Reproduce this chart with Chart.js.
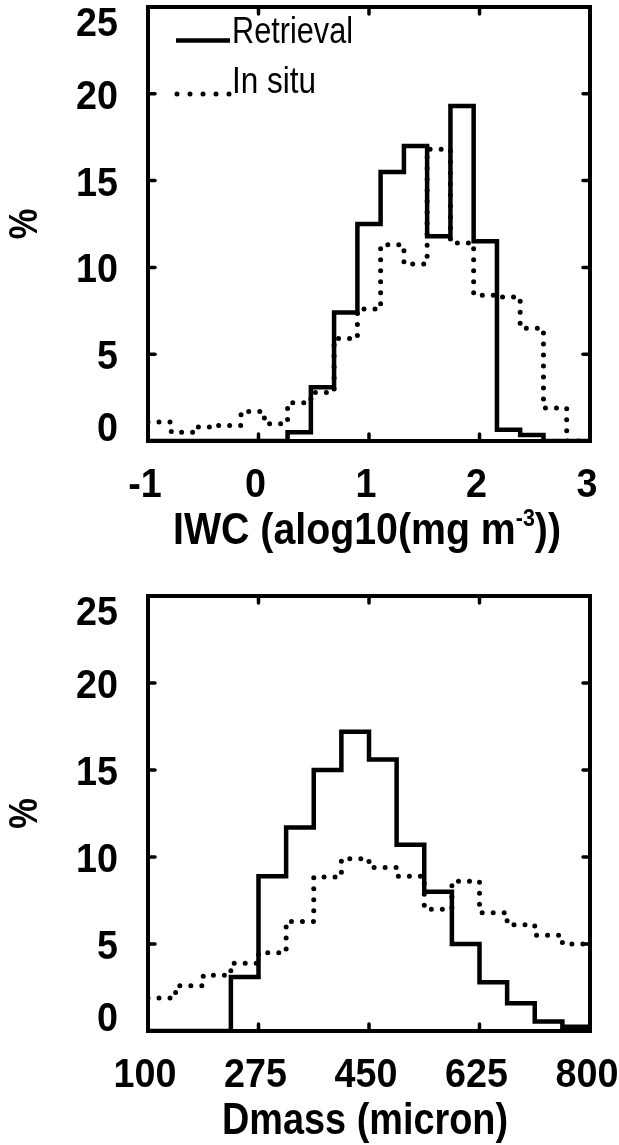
<!DOCTYPE html>
<html>
<head>
<meta charset="utf-8">
<title>IWC and Dmass histograms</title>
<script src="https://cdn.jsdelivr.net/npm/chart.js@4.4.1/dist/chart.umd.min.js"></script>
<style>
  html, body { margin: 0; padding: 0; background: #fff; }
  #page { position: relative; width: 619px; height: 1145px; overflow: hidden; background: #fff; }
  canvas { position: absolute; left: 0; }
</style>
</head>
<body>
<div id="page">
  <canvas id="iwcChart" width="619" height="575" style="top:0px"></canvas>
  <canvas id="dmassChart" width="619" height="570" style="top:575px"></canvas>
</div>
<script>
// IWC histogram, bins in log10(mg m-3), values in %
const iwcEdges = [-1, -0.789, -0.579, -0.368, -0.158, 0.053, 0.263, 0.474, 0.684, 0.895,
                  1.105, 1.316, 1.526, 1.737, 1.947, 2.158, 2.368, 2.579, 2.789, 3];
const iwcRetrieval = [0, 0, 0, 0, 0, 0, 0.5, 3.1, 7.4, 12.5, 15.5, 17.0, 11.8, 19.3, 11.5, 0.65, 0.35, 0, 0];
const iwcInSitu = [1.1, 0.5, 0.8, 0.9, 1.7, 1.0, 2.2, 2.8, 5.9, 7.6, 11.3, 10.2, 16.8, 11.4, 8.4, 8.3, 6.5, 1.9, 0];
const iwcTicks = [-1, 0, 1, 2, 3];

// Dmass histogram, bins in micron, values in %
const dmassEdges = [100, 143.75, 187.5, 231.25, 275, 318.75, 362.5, 406.25, 450,
                    493.75, 537.5, 581.25, 625, 668.75, 712.5, 756.25, 800];
const dmassRetrieval = [0, 0, 0, 3.1, 8.9, 11.7, 15.0, 17.2, 15.6, 10.7, 8.0, 5.0, 2.8, 1.6, 0.55, 0.25];
const dmassInSitu = [1.9, 2.6, 3.2, 3.9, 4.5, 6.3, 8.85, 9.9, 9.4, 8.9, 7.0, 8.6, 6.8, 6.1, 5.5, 5.0];
const dmassTicks = [100, 275, 450, 625, 800];

const percentTicks = [0, 5, 10, 15, 20, 25];
const seriesNames = ['Retrieval', 'In situ'];

const FONT = '"Liberation Sans", Arial, Helvetica, sans-serif';
const TICK_SX = 0.92;

// stairs: one point per bin left edge, plus the closing right edge
function stairs(edges, values) {
  const pts = values.map((v, i) => ({ x: edges[i], y: v }));
  pts.push({ x: edges[edges.length - 1], y: values[values.length - 1] });
  return pts;
}

// horizontally condensed text
function condensed(ctx, str, x, y, font, sx, align, baseline) {
  ctx.save();
  ctx.translate(x, y);
  ctx.scale(sx, 1);
  ctx.font = font;
  ctx.textAlign = align || 'left';
  ctx.textBaseline = baseline || 'alphabetic';
  ctx.fillText(str, 0, 0);
  ctx.restore();
}

// a run of text pieces squeezed to a given width, centred on cx
function fittedRun(ctx, parts, cx, baseY, width) {
  let total = 0;
  parts.forEach(p => {
    ctx.font = p.font;
    p.w = ctx.measureText(p.text).width;
    total += p.w;
  });
  const sx = width / total;
  ctx.save();
  ctx.translate(cx - width / 2, baseY);
  ctx.scale(sx, 1);
  ctx.textAlign = 'left';
  ctx.textBaseline = 'alphabetic';
  let x = 0;
  parts.forEach(p => {
    ctx.font = p.font;
    ctx.fillText(p.text, x, -(p.rise || 0));
    x += p.w;
  });
  ctx.restore();
}

function strokeLine(ctx, x1, y1, x2, y2) {
  ctx.beginPath();
  ctx.moveTo(x1, y1);
  ctx.lineTo(x2, y2);
  ctx.stroke();
}

// boxed axes with inward ticks, labels, titles and an inset legend
const boxedAxes = {
  id: 'boxedAxes',
  afterDraw(chart, args, opts) {
    const { ctx, chartArea: a, scales } = chart;
    const x = scales.x, y = scales.y;
    ctx.save();
    ctx.strokeStyle = '#000';
    ctx.fillStyle = '#000';

    ctx.lineWidth = 4;
    ctx.lineJoin = 'miter';
    ctx.strokeRect(a.left, a.top, a.right - a.left, a.bottom - a.top);

    ctx.lineWidth = 3.5;
    ctx.lineCap = 'round';
    const tl = 7;
    x.ticks.forEach(t => {
      const px = x.getPixelForValue(t.value);
      if (px > a.left + 2 && px < a.right - 2) {
        strokeLine(ctx, px, a.bottom, px, a.bottom - tl);
        strokeLine(ctx, px, a.top, px, a.top + tl);
      }
    });
    y.ticks.forEach(t => {
      const py = y.getPixelForValue(t.value);
      if (py > a.top + 2 && py < a.bottom - 2) {
        strokeLine(ctx, a.left, py, a.left + tl, py);
        strokeLine(ctx, a.right, py, a.right - tl, py);
      }
    });

    const tickFont = 'bold 41px ' + FONT;
    x.ticks.forEach(t => {
      const px = x.getPixelForValue(t.value);
      condensed(ctx, String(t.value), px - 3, a.bottom + 56, tickFont, TICK_SX, 'center');
    });
    y.ticks.forEach(t => {
      let base = y.getPixelForValue(t.value) + 15;
      if (t.value === y.max) base = a.top + 29;
      if (t.value === y.min) base = a.bottom;
      condensed(ctx, String(t.value), 118, base, tickFont, TICK_SX, 'right');
    });

    // y title, rotated
    ctx.save();
    ctx.translate(26, (a.top + a.bottom) / 2);
    ctx.rotate(-Math.PI / 2);
    condensed(ctx, '%', 0, 0, 'bold 40px ' + FONT, 0.86, 'center', 'middle');
    ctx.restore();

    // x title
    fittedRun(ctx, opts.title, opts.titleX, a.bottom + 103, opts.titleWidth);

    if (opts.legend) {
      const ds = chart.data.datasets;
      ctx.lineCap = 'butt';
      ctx.lineWidth = ds[0].borderWidth;
      strokeLine(ctx, 176, 40.5, 230, 40.5);
      ctx.lineCap = 'round';
      ctx.lineWidth = ds[1].borderWidth;
      ctx.setLineDash([0, 13]);
      strokeLine(ctx, 177, 94, 231, 94);
      ctx.setLineDash([]);
      fittedRun(ctx, [{ text: ds[0].label, font: '36px ' + FONT }], 232 + 60.5, 43, 121);
      fittedRun(ctx, [{ text: ds[1].label, font: '36px ' + FONT }], 232 + 42, 93, 84);
    }
    ctx.restore();
  }
};

function histogramChart(canvasId, edges, retrieval, inSitu, xTicks, padTop, axisHeight, pluginOpts) {
  const datasets = [
    {
      label: seriesNames[0],
      data: stairs(edges, retrieval),
      borderColor: '#000',
      borderWidth: 4.5,
      borderJoinStyle: 'miter',
      stepped: 'before',
      pointRadius: 0,
      fill: false
    },
    {
      label: seriesNames[1],
      data: stairs(edges, inSitu),
      borderColor: '#000',
      borderWidth: 5,
      borderDash: [0, 11],
      borderCapStyle: 'round',
      stepped: 'before',
      pointRadius: 0,
      fill: false
    }
  ];
  return new Chart(document.getElementById(canvasId), {
    type: 'line',
    data: { datasets: datasets },
    plugins: [boxedAxes],
    options: {
      responsive: false,
      animation: false,
      devicePixelRatio: 1,
      layout: { padding: { left: 0, right: 29, top: padTop, bottom: 0 } },
      plugins: {
        legend: { display: false },
        tooltip: { enabled: false },
        boxedAxes: pluginOpts
      },
      scales: {
        x: {
          type: 'linear',
          min: xTicks[0],
          max: xTicks[xTicks.length - 1],
          grid: { display: false },
          border: { display: false },
          ticks: { display: false },
          afterBuildTicks: s => { s.ticks = xTicks.map(v => ({ value: v })); },
          afterFit: s => { s.height = axisHeight; }
        },
        y: {
          type: 'linear',
          min: 0,
          max: 25,
          grid: { display: false },
          border: { display: false },
          ticks: { display: false },
          afterBuildTicks: s => { s.ticks = percentTicks.map(v => ({ value: v })); },
          afterFit: s => { s.width = 148; }
        }
      }
    }
  });
}

histogramChart('iwcChart', iwcEdges, iwcRetrieval, iwcInSitu, iwcTicks, 7, 134, {
  legend: true,
  titleX: 367,
  titleWidth: 388,
  title: [
    { text: 'IWC (alog10(mg m', font: 'bold 44px ' + FONT },
    { text: '-3', font: 'bold 24px ' + FONT, rise: 18 },
    { text: '))', font: 'bold 44px ' + FONT }
  ]
});

histogramChart('dmassChart', dmassEdges, dmassRetrieval, dmassInSitu, dmassTicks, 21, 114, {
  legend: false,
  titleX: 365,
  titleWidth: 286,
  title: [{ text: 'Dmass (micron)', font: 'bold 44px ' + FONT }]
});
</script>
</body>
</html>
